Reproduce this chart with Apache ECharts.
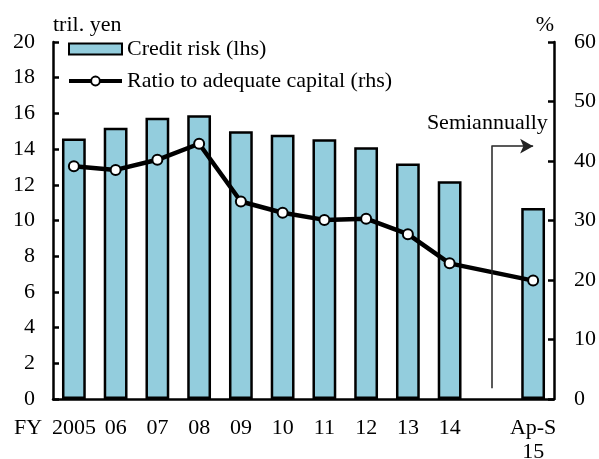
<!DOCTYPE html>
<html>
<head>
<meta charset="utf-8">
<script src="https://cdn.jsdelivr.net/npm/echarts@6/dist/echarts.min.js"></script>
<style>
  html, body { margin: 0; padding: 0; background: #fff; }
  #chart { width: 599px; height: 459px; }
</style>
</head>
<body>
<div id="chart"></div>
<script>
const categories = ["2005", "06", "07", "08", "09", "10", "11", "12", "13", "14", "", "Ap-S\n15"];
const creditRisk = [14.6, 15.2, 15.75, 15.9, 15.0, 14.8, 14.55, 14.1, 13.2, 12.2, null, 10.7];
const capitalRatio = [39.1, 38.5, 40.2, 42.9, 33.2, 31.3, 30.1, 30.3, 27.7, 22.8, null, 19.9];
// where the "Semiannually" marker sits (category index, rhs value)
const semiIndex = 10;
const semiTop = 42.5;
const semiBottom = 1.8;
const semiLabelAt = 46.4;

const font = "Liberation Serif";
const txt = { fontFamily: font, fontSize: 22, color: "#000" };

const chart = echarts.init(document.getElementById("chart"));
chart.setOption({
  animation: false,
  grid: { left: 53, right: 45, top: 42, bottom: 60, outerBoundsMode: "none" },
  legend: {
    left: 67,
    top: 38,
    orient: "vertical",
    padding: 0,
    itemGap: 10,
    itemWidth: 53,
    itemHeight: 11,
    textStyle: txt,
    data: [
      { name: "Credit risk (lhs)", icon: "rect" },
      { name: "Ratio to adequate capital (rhs)", lineStyle: { width: 4, color: "#000" } },
    ],
  },
  graphic: [
    { type: "text", left: 14, top: 417, style: { text: "FY", font: "22px " + font, fill: "#000" } },
  ],
  xAxis: {
    type: "category",
    data: categories,
    axisLine: { lineStyle: { color: "#000", width: 2.5 } },
    axisTick: { inside: false, length: 6, lineStyle: { width: 2.5 } },
    axisLabel: Object.assign({}, txt, { margin: 17, interval: 0, lineHeight: 24 }),
  },
  yAxis: [
    {
      type: "value",
      min: 0,
      max: 20,
      interval: 2,
      name: "tril. yen",
      nameGap: 6,
      nameTextStyle: Object.assign({}, txt, { align: "left" }),
      axisLine: { show: true, lineStyle: { color: "#000", width: 2.5 } },
      axisTick: { show: true, inside: true, length: 6, lineStyle: { width: 2.5 } },
      axisLabel: Object.assign({}, txt, { margin: 18 }),
      splitLine: { show: false },
    },
    {
      type: "value",
      min: 0,
      max: 60,
      interval: 10,
      name: "%",
      nameGap: 6,
      nameTextStyle: Object.assign({}, txt, { align: "right" }),
      axisLine: { show: true, lineStyle: { color: "#000", width: 2.5 } },
      axisTick: { show: true, inside: true, length: 6, lineStyle: { width: 2.5 } },
      axisLabel: Object.assign({}, txt, { margin: 20 }),
      splitLine: { show: false },
    },
  ],
  series: [
    {
      name: "Credit risk (lhs)",
      type: "bar",
      data: creditRisk,
      barWidth: "57%",
      itemStyle: { color: "#93cddd", borderColor: "#000", borderWidth: 2.5 },
    },
    {
      name: "Ratio to adequate capital (rhs)",
      type: "line",
      yAxisIndex: 1,
      data: capitalRatio,
      connectNulls: true,
      symbol: "circle",
      symbolSize: 10,
      lineStyle: { color: "#000", width: 4.5 },
      itemStyle: { color: "#fff", borderColor: "#000", borderWidth: 2 },
      markLine: {
        silent: true,
        animation: false,
        label: { show: false },
        lineStyle: { color: "#222", width: 1.5, type: "solid" },
        data: [
          [
            { coord: [semiIndex, semiTop], symbol: "none" },
            { coord: [semiIndex, semiBottom], symbol: "none" },
          ],
          [
            { coord: [semiIndex, semiTop], symbol: "none" },
            { coord: [semiIndex + 1, semiTop], symbol: "arrow", symbolSize: [11, 13] },
          ],
        ],
      },
      markPoint: {
        silent: true,
        symbol: "circle",
        symbolSize: 0,
        label: Object.assign({}, txt, { show: true, position: "inside", offset: [-4, 0], formatter: "Semiannually" }),
        data: [{ coord: [semiIndex, semiLabelAt] }],
      },
    },
  ],
});
</script>
</body>
</html>
